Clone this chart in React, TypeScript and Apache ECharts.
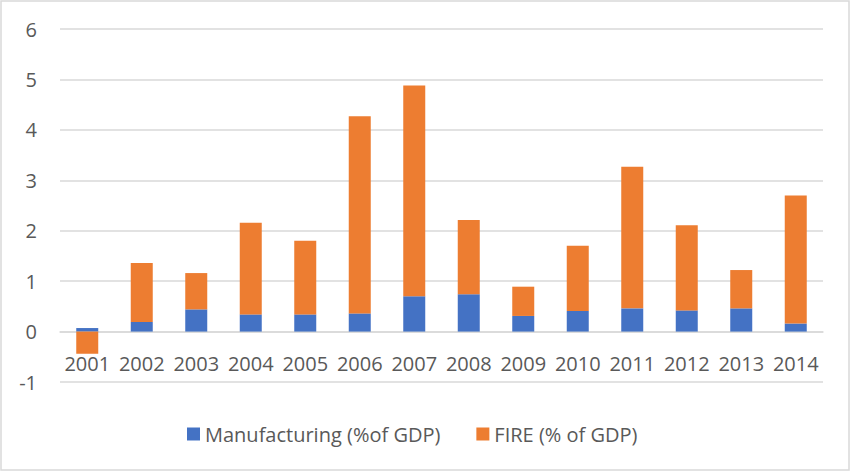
import React, { useEffect, useRef } from "react";
import * as echarts from "echarts";

const years = ["2001", "2002", "2003", "2004", "2005", "2006", "2007", "2008", "2009", "2010", "2011", "2012", "2013", "2014"];
const manufacturing = [0.07, 0.19, 0.44, 0.34, 0.34, 0.36, 0.7, 0.74, 0.31, 0.41, 0.46, 0.42, 0.46, 0.16];
const fire = [-0.44, 1.17, 0.72, 1.82, 1.46, 3.91, 4.18, 1.47, 0.58, 1.29, 2.81, 1.69, 0.76, 2.54];
const seriesNames = ["Manufacturing (%of GDP)", "FIRE (% of GDP)"];

const FONT = "'Open Sans', sans-serif";
const TEXT = "#595959";
const GRID = "#D9D9D9";

export default function App() {
  const ref = useRef<HTMLDivElement>(null);
  useEffect(() => {
    document.body.style.margin = "0";
    const chart = echarts.init(ref.current!, null, { renderer: "svg" });
    chart.setOption({
      animation: false,
      backgroundColor: "#fff",
      textStyle: { fontFamily: FONT },
      graphic: [
        {
          type: "rect",
          shape: { x: 1, y: 1, width: 848, height: 469 },
          style: { fill: "none", stroke: GRID, lineWidth: 1.5 },
          silent: true,
        },
      ],
      grid: { left: 60, right: 31, top: 29, bottom: 91 },
      legend: {
        left: 182,
        top: 419,
        itemWidth: 13,
        itemHeight: 13,
        itemGap: 36,
        icon: "rect",
        textStyle: { color: TEXT, fontSize: 20, fontFamily: FONT },
        data: seriesNames,
      },
      xAxis: {
        type: "category",
        data: years,
        axisLine: { onZero: true, lineStyle: { color: GRID, width: 1.5 } },
        axisTick: { show: false },
        axisLabel: { color: TEXT, fontSize: 20, margin: -29, interval: 0, fontFamily: FONT },
      },
      yAxis: {
        type: "value",
        min: -1,
        max: 6,
        interval: 1,
        axisLine: { show: false },
        axisTick: { show: false },
        axisLabel: { color: TEXT, fontSize: 20, margin: 23, fontFamily: FONT },
        splitLine: { lineStyle: { color: GRID, width: 1.5 } },
      },
      series: [
        {
          name: seriesNames[0],
          type: "bar",
          stack: "total",
          data: manufacturing,
          barWidth: 22,
          itemStyle: { color: "#4472C4" },
        },
        {
          name: seriesNames[1],
          type: "bar",
          stack: "total",
          data: fire,
          barWidth: 22,
          itemStyle: { color: "#ED7D31" },
        },
      ],
    });
    return () => chart.dispose();
  }, []);
  return <div ref={ref} style={{ position: "absolute", left: 0, top: 0, width: 854, height: 473 }} />;
}
